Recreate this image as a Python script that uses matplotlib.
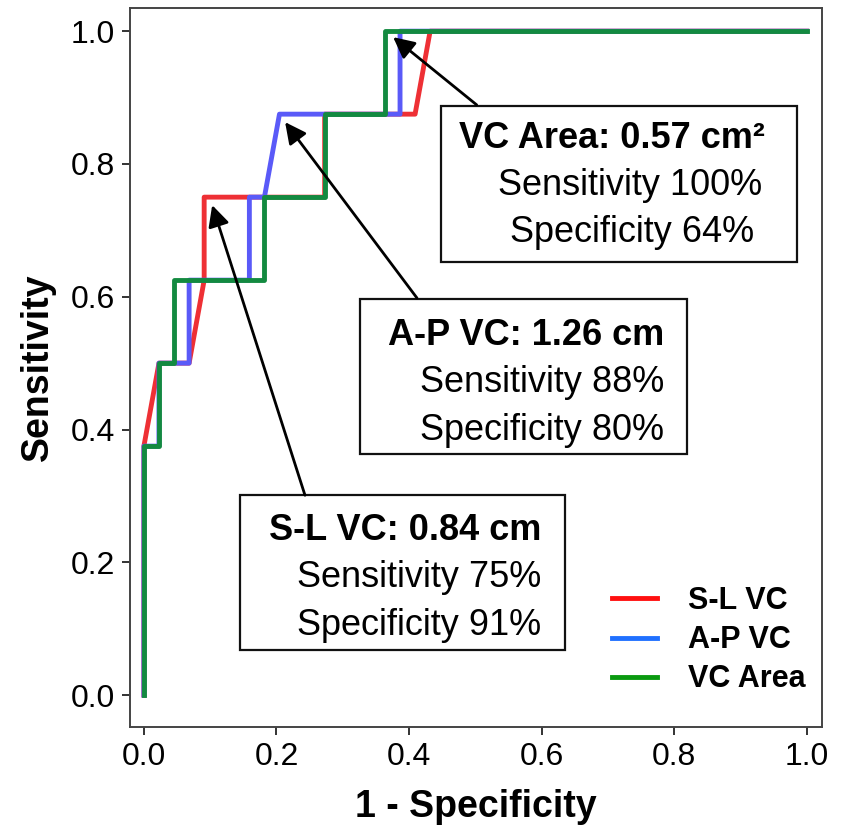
import matplotlib
matplotlib.use("Agg")
import matplotlib.pyplot as plt
from matplotlib.lines import Line2D
from matplotlib.patches import Rectangle

plt.rcParams['font.family'] = ['Liberation Sans', 'DejaVu Sans']

# ROC curves (1 - specificity, sensitivity)
sl_x = [0, 0, 0.0227, 0.0682, 0.0909, 0.0909, 0.1818, 0.2727, 0.2727, 0.4091, 0.4318, 1.0]
sl_y = [0, 0.375, 0.5, 0.5, 0.625, 0.75, 0.75, 0.75, 0.875, 0.875, 1.0, 1.0]

ap_x = [0, 0, 0.0227, 0.0227, 0.0682, 0.0682, 0.1591, 0.1591, 0.1818, 0.2045, 0.3864, 0.3864, 1.0]
ap_y = [0, 0.375, 0.375, 0.5, 0.5, 0.625, 0.625, 0.75, 0.75, 0.875, 0.875, 1.0, 1.0]

area_x = [0, 0, 0.0227, 0.0227, 0.0455, 0.0455, 0.1818, 0.1818, 0.2727, 0.2727, 0.3636, 0.3636, 1.0]
area_y = [0, 0.375, 0.375, 0.5, 0.5, 0.625, 0.625, 0.75, 0.75, 0.875, 0.875, 1.0, 1.0]

labels = ['S-L VC', 'A-P VC', 'VC Area']
ticks = [0.0, 0.2, 0.4, 0.6, 0.8, 1.0]

# cut-off boxes: title, sensitivity, specificity
cut_titles = ['VC Area: 0.57 cm²', 'A-P VC: 1.26 cm', 'S-L VC: 0.84 cm']
cut_sens = [100, 88, 75]
cut_spec = [64, 80, 91]

fig = plt.figure(figsize=(8.43, 8.26), dpi=100)
ax = fig.add_axes([0.1542, 0.1199, 0.8209, 0.8705])

ax.plot(sl_x, sl_y, color='#EE3035', lw=3.5, zorder=3)
ax.plot(ap_x, ap_y, color='#5A5AF8', lw=3.5, zorder=4)
ax.plot(area_x, area_y, color='#138A40', lw=3.5, zorder=5)

ax.set_xlim(-0.021, 1.023)
ax.set_ylim(-0.048, 1.035)
ax.set_xticks(ticks)
ax.set_yticks(ticks)
ax.set_xticklabels([f'{t:.1f}' for t in ticks])
ax.set_yticklabels([f'{t:.1f}' for t in ticks])
ax.tick_params(direction='out', length=6, width=1.4, labelsize=23, colors='#333333',
               labelcolor='black', pad=5)
for s in ax.spines.values():
    s.set_linewidth(1.4)
    s.set_color('#444444')

ax.set_xlabel('1 - Specificity', fontsize=27, fontweight='bold', labelpad=12)
ax.set_ylabel('Sensitivity', fontsize=27, fontweight='bold', labelpad=10)

# boxes (x0, x1, y0, y1) in data units
boxes = [(0.448, 0.985, 0.652, 0.887), (0.326, 0.820, 0.363, 0.596), (0.145, 0.635, 0.068, 0.301)]
for (x0, x1, y0, y1) in boxes:
    ax.add_patch(Rectangle((x0, y0), x1 - x0, y1 - y0, facecolor='white',
                           edgecolor='#111111', lw=1.6, zorder=6))

fs = 26
# box 1 text (roughly centred lines)
ax.text(0.476, 0.824, cut_titles[0], fontsize=fs, fontweight='bold', va='baseline', zorder=7)
ax.text(0.534, 0.753, f'Sensitivity {cut_sens[0]}%', fontsize=fs, va='baseline', zorder=7)
ax.text(0.552, 0.682, f'Specificity {cut_spec[0]}%', fontsize=fs, va='baseline', zorder=7)
# box 2 and 3 text (right aligned)
for i, xr, ys in [(1, 0.785, (0.527, 0.456, 0.384)), (2, 0.600, (0.233, 0.163, 0.090))]:
    ax.text(xr, ys[0], cut_titles[i], fontsize=fs, fontweight='bold', ha='right', va='baseline', zorder=7)
    ax.text(xr, ys[1], f'Sensitivity {cut_sens[i]}%', fontsize=fs, ha='right', va='baseline', zorder=7)
    ax.text(xr, ys[2], f'Specificity {cut_spec[i]}%', fontsize=fs, ha='right', va='baseline', zorder=7)

# arrows from boxes to cut-off points
arrows = [((0.502, 0.889), (0.376, 0.991)),
          ((0.412, 0.598), (0.213, 0.863)),
          ((0.243, 0.301), (0.103, 0.738))]
for tail, head in arrows:
    ax.annotate('', xy=head, xytext=tail,
                arrowprops=dict(arrowstyle='-|>', color='black', lw=2.0,
                                mutation_scale=32, shrinkA=0, shrinkB=0),
                zorder=8)

handles = [Line2D([], [], color='#FF1010', lw=3.5),
           Line2D([], [], color='#2070FF', lw=3.5),
           Line2D([], [], color='#0A9A10', lw=3.5)]
leg = ax.legend(handles, labels, loc='upper left', bbox_to_anchor=(0.697, 0.196),
                frameon=False, borderpad=0, borderaxespad=0,
                handlelength=1.47, handletextpad=1.0, labelspacing=0.3,
                prop={'size': 22, 'weight': 'bold'})

fig.savefig('out.png', dpi=100)
